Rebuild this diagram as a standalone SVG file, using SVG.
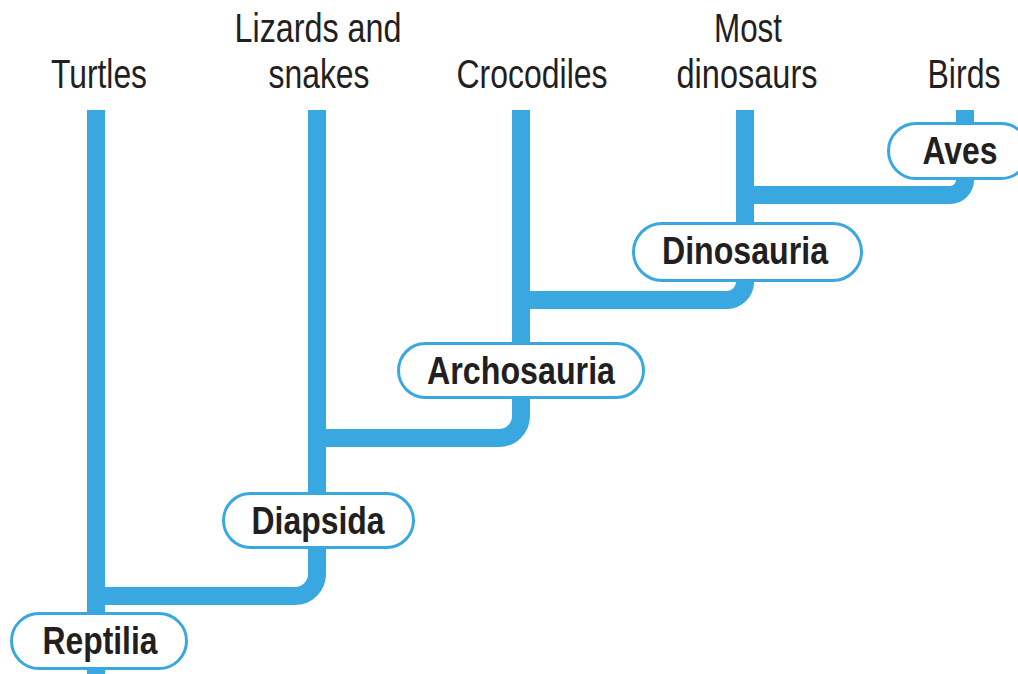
<svg xmlns="http://www.w3.org/2000/svg" width="1018" height="674" viewBox="0 0 1018 674">
<style>
.ln{fill:none;stroke:#3aa8e0;stroke-width:18}
.pill{fill:#fff;stroke:#3aa8e0;stroke-width:3}
.lab{font-family:"Liberation Sans",Arial,sans-serif;font-size:41px;fill:#231f20;text-anchor:middle}
.nl{font-family:"Liberation Sans",Arial,sans-serif;font-weight:bold;font-size:38px;fill:#231f20;text-anchor:middle}
</style>
<rect width="1018" height="674" fill="#fff"/>
<g id="connectors">
<path class="ln" d="M96 110 V674"/>
<path class="ln" d="M96 596 H295 A22 22 0 0 0 317 574 V549"/>
<path class="ln" d="M317 110 V492"/>
<path class="ln" d="M317 438 H499 A22 22 0 0 0 521 416 V399"/>
<path class="ln" d="M521 110 V342"/>
<path class="ln" d="M521 300 H727 A18 18 0 0 0 745 282"/>
<path class="ln" d="M745 110 V222"/>
<path class="ln" d="M745 195 H950 A15 15 0 0 0 965 180"/>
<path class="ln" d="M965 110 V122"/>
</g>
<g id="turtles"><text class="lab" x="99" y="88" textLength="96" lengthAdjust="spacingAndGlyphs">Turtles</text></g>
<g id="lizards"><text class="lab" x="318" y="42" textLength="167" lengthAdjust="spacingAndGlyphs">Lizards and</text><text class="lab" x="319" y="88" textLength="101" lengthAdjust="spacingAndGlyphs">snakes</text></g>
<g id="crocodiles"><text class="lab" x="532" y="88" textLength="151" lengthAdjust="spacingAndGlyphs">Crocodiles</text></g>
<g id="dinosaurs"><text class="lab" x="748" y="42" textLength="68" lengthAdjust="spacingAndGlyphs">Most</text><text class="lab" x="747" y="88" textLength="141" lengthAdjust="spacingAndGlyphs">dinosaurs</text></g>
<g id="birds"><text class="lab" x="964" y="88" textLength="73" lengthAdjust="spacingAndGlyphs">Birds</text></g>
<g id="reptilia"><rect class="pill" x="11.5" y="613.5" width="175" height="55" rx="27.5"/><text class="nl" x="100" y="654" textLength="115" lengthAdjust="spacingAndGlyphs">Reptilia</text></g>
<g id="diapsida"><rect class="pill" x="223.5" y="493.5" width="190" height="54" rx="27"/><text class="nl" x="318" y="534" textLength="133" lengthAdjust="spacingAndGlyphs">Diapsida</text></g>
<g id="archosauria"><rect class="pill" x="398.5" y="343.5" width="245" height="54" rx="27"/><text class="nl" x="521" y="384" textLength="188" lengthAdjust="spacingAndGlyphs">Archosauria</text></g>
<g id="dinosauria"><rect class="pill" x="633.5" y="223.5" width="228" height="57" rx="28.5"/><text class="nl" x="745" y="264" textLength="166" lengthAdjust="spacingAndGlyphs">Dinosauria</text></g>
<g id="aves"><rect class="pill" x="888.5" y="123.5" width="140" height="55" rx="27.5"/><text class="nl" x="960" y="164" textLength="75" lengthAdjust="spacingAndGlyphs">Aves</text></g>
</svg>
